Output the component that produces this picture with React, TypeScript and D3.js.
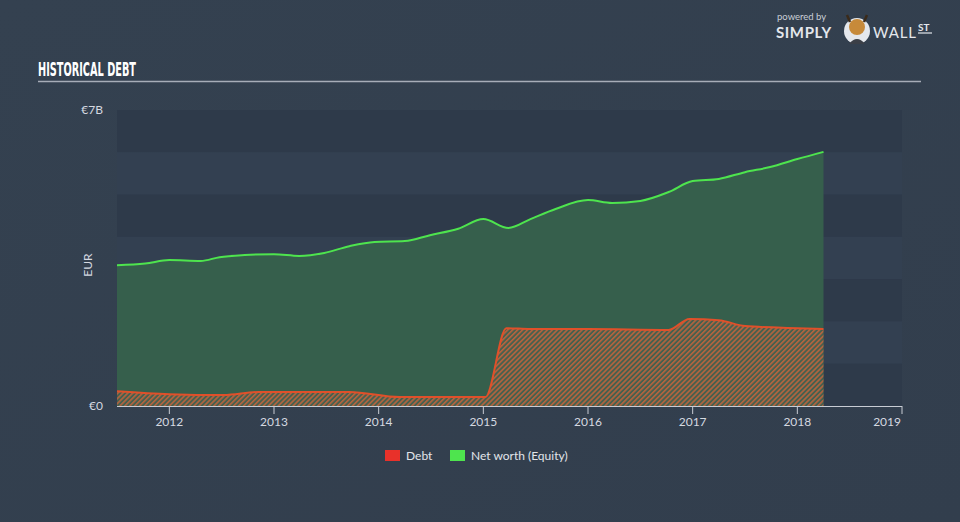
import React from "react";
import * as d3 from "d3";

const yearTicks = [2012, 2013, 2014, 2015, 2016, 2017, 2018, 2019];
const yTickLabels = ["€0", "€7B"];
const seriesNames = ["Debt", "Net worth (Equity)"];

const equityDates = [2011.5, 2011.77, 2012.0, 2012.3, 2012.48, 2012.72, 2013.0, 2013.24, 2013.48, 2013.72, 2013.96, 2014.25, 2014.49, 2014.76, 2015.0, 2015.24, 2015.45, 2015.69, 2016.0, 2016.23, 2016.5, 2016.77, 2017.0, 2017.25, 2017.5, 2017.74, 2018.0, 2018.25];
const equityValues = [3.33, 3.37, 3.45, 3.43, 3.52, 3.57, 3.59, 3.55, 3.62, 3.78, 3.88, 3.9, 4.04, 4.19, 4.42, 4.21, 4.42, 4.66, 4.87, 4.8, 4.85, 5.06, 5.32, 5.37, 5.53, 5.65, 5.84, 6.01];

const debtDates = [2011.5, 2012.0, 2012.52, 2012.85, 2013.72, 2014.2, 2015.02, 2015.22, 2015.45, 2016.0, 2016.77, 2016.97, 2017.25, 2017.5, 2018.0, 2018.25];
const debtValues = [0.35, 0.28, 0.26, 0.33, 0.33, 0.21, 0.21, 1.84, 1.82, 1.82, 1.8, 2.06, 2.03, 1.89, 1.84, 1.82];

const W = 960, H = 522;
const x0 = 117, x1 = 902, yTop = 110, yBot = 406;

export default function App() {
  const x = d3.scaleLinear().domain([2011.5, 2019]).range([x0, x1]);
  const y = d3.scaleLinear().domain([0, 7]).range([yBot, yTop]);
  const eq = equityDates.map((d, i) => [d, equityValues[i]] as [number, number]);
  const db = debtDates.map((d, i) => [d, debtValues[i]] as [number, number]);
  const area = d3.area<[number, number]>().x(d => x(d[0])).y0(yBot).y1(d => y(d[1])).curve(d3.curveMonotoneX);
  const line = d3.line<[number, number]>().x(d => x(d[0])).y(d => y(d[1])).curve(d3.curveMonotoneX);
  const bands = d3.range(7);
  return (
    <svg width={W} height={H} style={{ position: "fixed", left: 0, top: 0, display: "block" }} fontFamily="Lato, 'Open Sans', sans-serif">
      <defs>
        <linearGradient id="bg" x1="0" y1="0" x2="1" y2="1">
          <stop offset="0" stopColor="#344150" />
          <stop offset="1" stopColor="#323e4d" />
        </linearGradient>
        <pattern id="hatch" width="3.5" height="3.5" patternUnits="userSpaceOnUse" patternTransform="rotate(45)">
          <rect width="3.5" height="3.5" fill="#46604e" />
          <rect width="1.6" height="3.5" fill="#b5643f" />
        </pattern>
      </defs>
      <rect width={W} height={H} fill="url(#bg)" />
      {bands.map(i => (
        <rect key={i} x={x0} width={x1 - x0} y={y(7 - i)} height={y(6 - i) - y(7 - i)} fill={i % 2 === 0 ? "#2e3a4a" : "#334051"} />
      ))}
      <path d={area(eq) || ""} fill="#365f4c" />
      <path d={area(db) || ""} fill="url(#hatch)" />
      <path d={line(eq) || ""} fill="none" stroke="#4ee44e" strokeWidth={2} />
      <path d={line(db) || ""} fill="none" stroke="#e0502a" strokeWidth={2} />
      <line x1={x0} x2={x1} y1={yBot + 0.5} y2={yBot + 0.5} stroke="#c8ccd4" strokeWidth={1} />
      {yearTicks.map(t => (
        <g key={t}>
          <line x1={x(t)} x2={x(t)} y1={yBot} y2={yBot + 8} stroke="#c8ccd4" strokeWidth={1} />
          <text x={t === 2019 ? x(t) - 1 : x(t)} y={426} textAnchor={t === 2019 ? "end" : "middle"} fontSize={12} fill="#d5d9e0">{t}</text>
        </g>
      ))}
      <text x={103} y={yTop + 4} textAnchor="end" fontSize={12} fill="#d5d9e0">{yTickLabels[1]}</text>
      <text x={103} y={yBot + 4} textAnchor="end" fontSize={12} fill="#d5d9e0">{yTickLabels[0]}</text>
      <text transform={`translate(92,${(yTop + yBot) / 2 + 7}) rotate(-90)`} textAnchor="middle" fontSize={12} fill="#d5d9e0">EUR</text>
      <text x={38} y={76} fontSize={19} fontWeight="bold" fill="#ffffff" fontFamily="'DejaVu Sans Condensed', 'Liberation Sans Narrow', sans-serif" fontStretch="condensed" textLength={98} lengthAdjust="spacingAndGlyphs">HISTORICAL DEBT</text>
      <line x1={38} x2={921} y1={81.5} y2={81.5} stroke="#a7adb8" strokeWidth={1.5} />
      <rect x={385} y={450} width={15} height={11} fill="#e8312a" />
      <text x={406} y={460} fontSize={12} fill="#e2e5ea">{seriesNames[0]}</text>
      <rect x={450} y={450} width={15} height={11} fill="#4ee44e" />
      <text x={471} y={460} fontSize={12} fill="#e2e5ea">{seriesNames[1]}</text>
      <g>
        <text x={777} y={20} fontSize={9.5} fill="#c9ced6">powered by</text>
        <text x={776} y={38} fontSize={15} fontWeight="bold" fill="#e4e7ec" letterSpacing={0.6}>SIMPLY</text>
        <circle cx={857} cy={31} r={13} fill="#e4e7ec" />
        <circle cx={857} cy={27} r={8} fill="#c78a3a" />
        <path d="M847,15 L850,22 M867,15 L864,22" stroke="#3a2a1a" strokeWidth={2.5} />
        <path d="M849,44 Q857,34 865,44 Z" fill="#3b3f47" />
        <text x={873} y={38} fontSize={15} fill="#e4e7ec" letterSpacing={0.8}>WALL</text>
        <text x={918} y={31} fontSize={10} fontWeight="bold" fill="#e4e7ec">ST</text>
        <line x1={918} x2={932} y1={33} y2={33} stroke="#e4e7ec" strokeWidth={1.2} />
      </g>
    </svg>
  );
}
